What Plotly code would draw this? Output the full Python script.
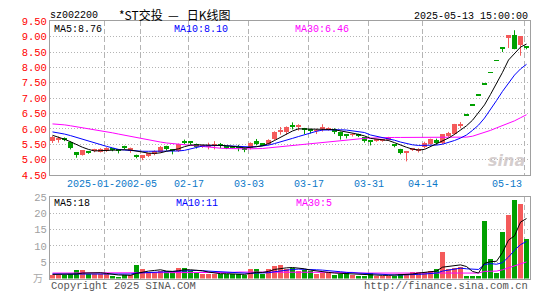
import plotly.graph_objects as go

# ---------------- data ----------------
dates = [
    "2025-01-08", "2025-01-09", "2025-01-10", "2025-01-13", "2025-01-14", "2025-01-15", "2025-01-16",
    "2025-01-17", "2025-01-20", "2025-01-21", "2025-01-22", "2025-01-23", "2025-01-24", "2025-01-27",
    "2025-02-05", "2025-02-06", "2025-02-07", "2025-02-10", "2025-02-11", "2025-02-12", "2025-02-13",
    "2025-02-14", "2025-02-17", "2025-02-18", "2025-02-19", "2025-02-20", "2025-02-21", "2025-02-24",
    "2025-02-25", "2025-02-26", "2025-02-27", "2025-02-28",
    "2025-03-03", "2025-03-04", "2025-03-05", "2025-03-06", "2025-03-07", "2025-03-10", "2025-03-11",
    "2025-03-12", "2025-03-13", "2025-03-14", "2025-03-17", "2025-03-18", "2025-03-19", "2025-03-20",
    "2025-03-21", "2025-03-24", "2025-03-25", "2025-03-26", "2025-03-27", "2025-03-28", "2025-03-31",
    "2025-04-01", "2025-04-02", "2025-04-03", "2025-04-07", "2025-04-08", "2025-04-09", "2025-04-10",
    "2025-04-11", "2025-04-14", "2025-04-15", "2025-04-16", "2025-04-17", "2025-04-18", "2025-04-21",
    "2025-04-22", "2025-04-23", "2025-04-24", "2025-04-25", "2025-04-28", "2025-04-29", "2025-04-30",
    "2025-05-06", "2025-05-07", "2025-05-08", "2025-05-09", "2025-05-12", "2025-05-13",
]

opens = [5.59, 5.64, 5.66, 5.56, 5.23, 5.15, 5.27, 5.26, 5.25, 5.27,
         5.33, 5.31, 5.40, 5.26, 5.10, 5.05, 5.10, 5.17, 5.25, 5.42,
         5.31, 5.27, 5.58, 5.57, 5.50, 5.40, 5.42, 5.46, 5.48, 5.43,
         5.40, 5.39, 5.33, 5.35, 5.58, 5.52, 5.48, 5.65, 5.88, 5.90,
         6.09, 6.06, 6.02, 5.95, 5.92, 5.99, 5.96, 6.00, 5.90, 5.78,
         5.79, 5.83, 5.71, 5.59, 5.61, 5.61, 5.62, 5.47, 5.33, 5.23,
         5.32, 5.30, 5.39, 5.50, 5.62, 5.52, 5.75, 5.81, 6.10, 6.43,
         6.75, 7.09, 7.44, 7.81, 8.20, 8.61, 8.96, 9.04, 8.71, 8.66]
highs = [5.77, 5.75, 5.72, 5.60, 5.24, 5.30, 5.28, 5.35, 5.37, 5.40,
         5.36, 5.32, 5.45, 5.39, 5.16, 5.14, 5.20, 5.30, 5.44, 5.45,
         5.33, 5.52, 5.65, 5.60, 5.52, 5.48, 5.55, 5.60, 5.54, 5.45,
         5.42, 5.48, 5.40, 5.56, 5.67, 5.53, 5.66, 5.92, 6.06, 6.08,
         6.21, 6.15, 6.03, 6.00, 6.00, 6.15, 6.05, 6.02, 5.91, 5.83,
         5.86, 5.84, 5.72, 5.63, 5.66, 5.66, 5.74, 5.50, 5.35, 5.28,
         5.36, 5.37, 5.58, 5.68, 5.68, 5.83, 5.90, 6.16, 6.22, 6.43,
         6.75, 7.09, 7.44, 7.81, 8.20, 8.61, 9.04, 9.21, 9.02, 8.69]
lows = [5.54, 5.55, 5.60, 5.33, 5.06, 5.13, 5.19, 5.24, 5.23, 5.25,
        5.27, 5.20, 5.33, 5.22, 5.04, 4.98, 5.08, 5.14, 5.22, 5.29,
        5.17, 5.25, 5.50, 5.48, 5.36, 5.38, 5.33, 5.33, 5.37, 5.34,
        5.35, 5.27, 5.24, 5.33, 5.46, 5.44, 5.46, 5.63, 5.81, 5.81,
        5.98, 5.94, 5.83, 5.85, 5.83, 5.91, 5.94, 5.83, 5.65, 5.69,
        5.75, 5.73, 5.55, 5.46, 5.58, 5.58, 5.60, 5.40, 5.17, 4.94,
        5.28, 5.23, 5.36, 5.48, 5.48, 5.50, 5.73, 5.80, 6.02, 6.43,
        6.75, 7.09, 7.44, 7.81, 8.20, 8.50, 8.63, 8.59, 8.38, 8.59]
closes = [5.74, 5.67, 5.64, 5.37, 5.15, 5.29, 5.22, 5.33, 5.33, 5.37,
          5.31, 5.29, 5.38, 5.36, 5.08, 5.13, 5.19, 5.26, 5.40, 5.33,
          5.29, 5.50, 5.56, 5.55, 5.40, 5.45, 5.44, 5.48, 5.46, 5.36,
          5.38, 5.37, 5.32, 5.54, 5.52, 5.46, 5.62, 5.90, 5.96, 6.04,
          6.07, 6.08, 5.98, 5.93, 5.94, 6.01, 6.02, 5.90, 5.77, 5.76,
          5.81, 5.75, 5.58, 5.57, 5.63, 5.63, 5.73, 5.45, 5.19, 5.27,
          5.34, 5.32, 5.54, 5.66, 5.52, 5.81, 5.87, 6.14, 6.12, 6.43,
          6.75, 7.09, 7.44, 7.81, 8.20, 8.61, 9.04, 8.59, 9.02, 8.63]

ma5 = [5.79, 5.73, 5.66, 5.58, 5.48, 5.40, 5.33, 5.28, 5.29, 5.30,
       5.31, 5.32, 5.32, 5.31, 5.27, 5.23, 5.21, 5.20, 5.22, 5.27,
       5.30, 5.35, 5.42, 5.47, 5.48, 5.48, 5.47, 5.46, 5.46, 5.45,
       5.44, 5.41, 5.38, 5.39, 5.42, 5.45, 5.52, 5.62, 5.73, 5.83,
       5.93, 6.00, 6.00, 6.00, 6.00, 5.98, 5.98, 5.97, 5.94, 5.90,
       5.86, 5.82, 5.77, 5.69, 5.66, 5.65, 5.62, 5.55, 5.47, 5.40,
       5.34, 5.31, 5.33, 5.42, 5.52, 5.60, 5.70, 5.82, 5.95, 6.10,
       6.28, 6.52, 6.78, 7.12, 7.47, 7.84, 8.24, 8.46, 8.66, 8.76]
ma10 = [5.90, 5.87, 5.83, 5.78, 5.72, 5.66, 5.59, 5.53, 5.48, 5.43,
        5.38, 5.33, 5.31, 5.29, 5.28, 5.27, 5.27, 5.27, 5.27, 5.27,
        5.27, 5.28, 5.30, 5.34, 5.38, 5.44, 5.45, 5.46, 5.46, 5.45,
        5.44, 5.43, 5.41, 5.41, 5.42, 5.44, 5.47, 5.52, 5.57, 5.63,
        5.69, 5.75, 5.81, 5.87, 5.92, 5.96, 5.97, 5.98, 5.97, 5.96,
        5.93, 5.91, 5.88, 5.80, 5.76, 5.72, 5.68, 5.63, 5.57, 5.52,
        5.48, 5.46, 5.46, 5.46, 5.47, 5.50, 5.55, 5.62, 5.70, 5.80,
        5.95, 6.12, 6.35, 6.62, 6.92, 7.22, 7.50, 7.75, 7.95, 8.10]
ma30 = [6.16, 6.15, 6.13, 6.10, 6.07, 6.04, 6.01, 5.98, 5.95, 5.91,
        5.87, 5.83, 5.79, 5.76, 5.72, 5.68, 5.64, 5.61, 5.57, 5.54,
        5.52, 5.50, 5.47, 5.45, 5.43, 5.42, 5.40, 5.38, 5.37, 5.36,
        5.35, 5.35, 5.35, 5.35, 5.35, 5.36, 5.38, 5.40, 5.43, 5.45,
        5.47, 5.49, 5.51, 5.53, 5.55, 5.57, 5.59, 5.61, 5.63, 5.65,
        5.67, 5.68, 5.69, 5.70, 5.71, 5.71, 5.72, 5.72, 5.72, 5.72,
        5.72, 5.72, 5.72, 5.72, 5.72, 5.72, 5.72, 5.72, 5.72, 5.73,
        5.76, 5.82, 5.88, 5.95, 6.03, 6.10, 6.18, 6.26, 6.36, 6.46]

volumes = [1.2, 1.0, 1.0, 1.5, 2.5, 2.5, 1.4, 1.4, 1.4, 1.4,
           0.8, 0.6, 1.2, 1.0, 4.3, 3.0, 2.0, 2.0, 2.2, 2.2,
           2.4, 3.3, 3.4, 2.2, 1.6, 1.5, 1.5, 1.5, 1.5, 1.5,
           1.3, 1.3, 1.2, 2.8, 2.8, 1.5, 2.8, 3.9, 4.3, 3.0,
           3.2, 2.2, 2.5, 2.2, 1.3, 1.7, 2.0, 1.1, 1.5, 1.7,
           1.1, 0.7, 0.7, 1.7, 0.9, 0.9, 0.9, 0.9, 1.5, 1.5,
           2.1, 2.1, 2.1, 2.3, 3.0, 8.1, 3.0, 3.2, 3.6, 0.7,
           0.7, 0.7, 17.7, 6.0, 1.6, 14.2, 19.5, 24.2, 22.8, 12.2]
vma5 = [1.3, 1.3, 1.2, 1.2, 1.4, 1.7, 1.8, 1.9, 1.8, 1.6,
        1.3, 1.1, 1.1, 1.0, 1.6, 2.0, 2.3, 2.5, 2.7, 2.3,
        2.2, 2.4, 2.7, 2.7, 2.6, 2.4, 2.0, 1.7, 1.5, 1.5,
        1.4, 1.4, 1.3, 1.6, 1.9, 1.9, 2.2, 2.8, 3.1, 3.3,
        3.4, 3.3, 3.0, 2.6, 2.3, 2.0, 1.9, 1.7, 1.6, 1.6,
        1.5, 1.2, 1.1, 1.2, 1.0, 1.0, 1.0, 1.1, 1.0, 1.1,
        1.4, 1.7, 1.9, 2.0, 2.3, 3.5, 3.7, 3.9, 4.2, 3.7,
        2.2, 1.7, 4.7, 5.2, 5.3, 8.0, 11.8, 13.1, 17.3, 18.4]
vma10 = [1.4, 1.4, 1.4, 1.4, 1.5, 1.5, 1.5, 1.6, 1.6, 1.6,
         1.6, 1.5, 1.5, 1.4, 1.7, 1.8, 1.9, 1.9, 1.9, 2.0,
         2.2, 2.4, 2.5, 2.6, 2.5, 2.4, 2.3, 2.2, 2.1, 2.0,
         1.8, 1.6, 1.5, 1.6, 1.7, 1.7, 1.8, 2.1, 2.4, 2.6,
         2.8, 2.9, 2.9, 2.9, 2.7, 2.6, 2.5, 2.2, 2.1, 1.9,
         1.8, 1.6, 1.4, 1.4, 1.3, 1.2, 1.1, 1.1, 1.1, 1.1,
         1.2, 1.3, 1.4, 1.5, 1.7, 2.3, 2.6, 2.9, 3.2, 3.0,
         2.9, 2.8, 4.3, 4.6, 4.4, 4.9, 6.6, 8.7, 10.4, 11.4]
vma30 = [1.7, 1.7, 1.7, 1.7, 1.7, 1.7, 1.7, 1.7, 1.7, 1.7,
         1.7, 1.7, 1.7, 1.7, 1.8, 1.8, 1.8, 1.8, 1.8, 1.9,
         1.9, 1.9, 1.9, 1.9, 1.9, 1.9, 1.9, 1.9, 1.9, 1.9,
         1.9, 2.0, 2.0, 2.0, 2.0, 2.0, 2.0, 2.0, 2.0, 2.0,
         2.0, 2.0, 2.0, 2.0, 2.0, 2.0, 2.0, 1.9, 1.9, 1.9,
         1.9, 1.7, 1.7, 1.7, 1.7, 1.7, 1.7, 1.7, 1.7, 1.7,
         1.7, 1.7, 1.7, 1.7, 1.7, 1.7, 1.7, 1.7, 1.7, 1.7,
         1.7, 1.7, 2.2, 2.3, 2.3, 2.7, 3.3, 4.0, 4.7, 5.1]

grid_dates = ["2025-01-20", "2025-02-05", "2025-02-17", "2025-03-03",
              "2025-03-17", "2025-03-31", "2025-04-14", "2025-05-13"]
grid_labels = ["2025-01-20", "02-05", "02-17", "03-03", "03-17", "03-31", "04-14", "05-13"]
price_ticks = [4.5, 5.0, 5.5, 6.0, 6.5, 7.0, 7.5, 8.0, 8.5, 9.0, 9.5]
vol_ticks = [5, 10, 15, 20, 25]

code = "sz002200"
title = "*ST交投&nbsp;&nbsp;—&nbsp;&nbsp;&nbsp;日K线图"
stamp = "2025-05-13 15:00:00"

# ---------------- style ----------------
W, H = 545, 300
UP = "#f45a5a"
DN = "#00a000"
MONO = "Liberation Mono, DejaVu Sans Mono, monospace"
CJK = "Noto Sans CJK SC, sans-serif"
GRIDC = "#b4b4b4"
FRAME = "#a0a0a0"
XLAB = "#0a78c8"


def fx(p):
    return p / W


def fy(p):
    return 1 - p / H


n = len(dates)
xs = list(range(n))
colors = [UP if c > o else DN for o, c in zip(opens, closes)]
body_base = [min(o, c) for o, c in zip(opens, closes)]
body_h = [max(abs(c - o), 0.03) for o, c in zip(opens, closes)]

fig = go.Figure()

# candle bodies
fig.add_trace(go.Bar(x=xs, y=body_h, base=body_base, width=5 / 6,
                     marker=dict(color=colors, line=dict(width=0)),
                     xaxis="x", yaxis="y", hoverinfo="skip"))
# wicks
for col in (UP, DN):
    wx, wy = [], []
    for i in range(n):
        if colors[i] == col:
            wx += [xs[i], xs[i], None]
            wy += [lows[i], highs[i], None]
    fig.add_trace(go.Scatter(x=wx, y=wy, mode="lines", line=dict(color=col, width=1),
                             xaxis="x", yaxis="y", hoverinfo="skip"))

# price moving averages
for arr, col in ((ma30, "#ff00ff"), (ma10, "#0000ff"), (ma5, "#000000")):
    fig.add_trace(go.Scatter(x=xs, y=arr, mode="lines", line=dict(color=col, width=1),
                             xaxis="x", yaxis="y", hoverinfo="skip"))

# volume bars
fig.add_trace(go.Bar(x=xs, y=volumes, width=5 / 6,
                     marker=dict(color=colors, line=dict(width=0)),
                     xaxis="x2", yaxis="y2", hoverinfo="skip"))
for arr, col in ((vma30, "#ff00ff"), (vma10, "#0000ff"), (vma5, "#000000")):
    fig.add_trace(go.Scatter(x=xs, y=arr, mode="lines", line=dict(color=col, width=1),
                             xaxis="x2", yaxis="y2", hoverinfo="skip"))

# vertical grid positions (slightly right of the bar, last one inside the frame)
grid_pos = []
for j, d in enumerate(grid_dates):
    k = dates.index(d)
    grid_pos.append(k - 0.4 if j == len(grid_dates) - 1 else k + 2 / 3)

xr = [-2.5 / 6, n - 2.5 / 6]
xdom = [fx(50), fx(530)]

common_x = dict(range=xr, domain=xdom, showline=True, mirror=True, linecolor=FRAME, linewidth=1,
                showgrid=True, gridcolor=GRIDC, griddash="5px,3px", gridwidth=1,
                tickmode="array", tickvals=grid_pos, ticks="", zeroline=False, fixedrange=True,
                showticklabels=False)

fig.update_layout(
    width=W, height=H, margin=dict(l=0, r=0, t=0, b=0),
    paper_bgcolor="white", plot_bgcolor="white", showlegend=False, bargap=0,
    xaxis=dict(**common_x, anchor="y"),
    xaxis2=dict(**common_x, anchor="y2", matches="x"),
    yaxis=dict(domain=[fy(177), fy(17)], range=[4.5, 9.5], tickmode="array", tickvals=price_ticks,
               ticktext=[f"{v:.2f}" for v in price_ticks], tickfont=dict(family=MONO, size=10.5, color="#ff0000"),
               showline=True, mirror=True, linecolor=FRAME, linewidth=1, showgrid=True, gridcolor=GRIDC,
               griddash="1px,2px", zeroline=False, ticks="", fixedrange=True, anchor="x"),
    yaxis2=dict(domain=[fy(285), fy(200)], range=[0, 25], tickmode="array", tickvals=vol_ticks,
                ticktext=[str(v) for v in vol_ticks], tickfont=dict(family=MONO, size=10.5, color="#a0a0a0"),
                showline=True, mirror=True, linecolor=FRAME, linewidth=1, showgrid=True, gridcolor=GRIDC,
                griddash="1px,2px", zeroline=False, ticks="", fixedrange=True, anchor="x2"),
)


def ann(text, x, y, color="#000", size=10, family=MONO, xanchor="left", yanchor="middle"):
    fig.add_annotation(text=text, x=fx(x), y=fy(y), xref="paper", yref="paper", showarrow=False,
                       xanchor=xanchor, yanchor=yanchor, borderpad=0,
                       font=dict(family=family, size=size, color=color))


# date labels along the bottom of the price panel
label_shift = [-8, 1, 0, 0, 0, 0, 0, -1]
for j, (pos, lab) in enumerate(zip(grid_pos, grid_labels)):
    last = j == len(grid_labels) - 1
    fig.add_annotation(text=lab, x=pos, y=fy(187), xref="x", yref="paper", showarrow=False,
                       xanchor="right" if last else "center", yanchor="middle", borderpad=0,
                       xshift=label_shift[j], font=dict(family=MONO, size=10, color=XLAB))

ann(code, 49, 11, size=10)
ann(title, 118, 10, size=12, family=CJK)
ann(stamp, 529, 12, size=10, xanchor="right")

ann(f"MA5:{ma5[-1]:.2f}", 53, 25, size=10)
ann(f"MA10:{ma10[-1]:.2f}", 173, 25, color="#0000ff", size=10)
ann(f"MA30:{ma30[-1]:.2f}", 294, 25, color="#ff00ff", size=10)

ann(f"MA5:{vma5[-1]:.0f}", 53, 207, size=10)
ann(f"MA10:{vma10[-1]:.0f}", 175, 207, color="#0000ff", size=10)
ann(f"MA30:{vma30[-1]:.0f}", 295, 207, color="#ff00ff", size=10)

ann("万", 38, 284, color="#a8a8a8", size=10, family=CJK, xanchor="center")
ann("Copyright 2025 SINA.COM", 50, 293, color="#555555", size=10.5)
ann("http://finance.sina.com.cn", 529, 293, color="#555555", size=10.5, xanchor="right")
ann("<b><i>sina</i></b>", 526, 162, color="rgba(200,190,190,0.75)", size=16,
    family="DejaVu Sans, sans-serif", xanchor="right")

fig.write_html("out.html")
